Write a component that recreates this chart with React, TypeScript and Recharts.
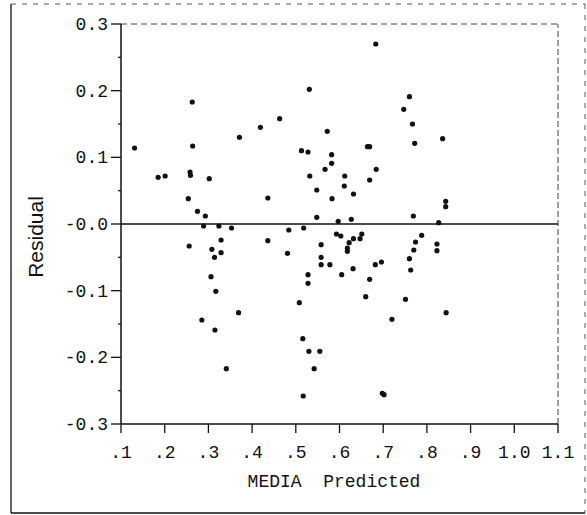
import { ScatterChart, Scatter, XAxis, YAxis, ReferenceLine } from "recharts"

// predicted value vs. residual, one pair per observation
const predicted = [
  0.131, 0.185, 0.201, 0.263, 0.264, 0.258, 0.259, 0.302, 0.254, 0.275,
  0.293, 0.371, 0.419, 0.289, 0.324, 0.353, 0.256, 0.329, 0.308, 0.329,
  0.314, 0.306, 0.317, 0.369, 0.285, 0.315, 0.341, 0.531, 0.463, 0.572,
  0.513, 0.528, 0.582, 0.582, 0.567, 0.532, 0.612, 0.664, 0.669, 0.684,
  0.669, 0.548, 0.611, 0.583, 0.632, 0.436, 0.548, 0.597, 0.627, 0.747,
  0.760, 0.767, 0.772, 0.836, 0.843, 0.843, 0.769, 0.827, 0.683, 0.484,
  0.518, 0.436, 0.481, 0.558, 0.593, 0.603, 0.651, 0.647, 0.632, 0.622,
  0.618, 0.618, 0.558, 0.558, 0.578, 0.528, 0.528, 0.605, 0.631, 0.682,
  0.696, 0.669, 0.660, 0.508, 0.720, 0.516, 0.530, 0.555, 0.542, 0.517,
  0.698, 0.702, 0.788, 0.774, 0.770, 0.760, 0.763, 0.751, 0.823, 0.823,
  0.844,
]
const residual = [
  0.114, 0.070, 0.072, 0.183, 0.117, 0.078, 0.073, 0.068, 0.038, 0.019,
  0.012, 0.130, 0.145, -0.003, -0.003, -0.006, -0.033, -0.024, -0.038, -0.043,
  -0.050, -0.079, -0.101, -0.133, -0.144, -0.159, -0.217, 0.202, 0.158, 0.139,
  0.110, 0.108, 0.104, 0.091, 0.082, 0.072, 0.072, 0.116, 0.116, 0.082,
  0.066, 0.051, 0.057, 0.038, 0.045, 0.039, 0.010, 0.004, 0.007, 0.172,
  0.191, 0.150, 0.121, 0.128, 0.034, 0.026, 0.012, 0.002, 0.270, -0.009,
  -0.006, -0.025, -0.044, -0.031, -0.015, -0.018, -0.015, -0.022, -0.022, -0.028,
  -0.036, -0.041, -0.050, -0.061, -0.061, -0.076, -0.089, -0.076, -0.067, -0.061,
  -0.057, -0.083, -0.109, -0.118, -0.143, -0.172, -0.191, -0.191, -0.217, -0.258,
  -0.254, -0.256, -0.017, -0.027, -0.039, -0.052, -0.069, -0.113, -0.030, -0.040,
  -0.133,
]

const xTicks = [0.1, 0.2, 0.3, 0.4, 0.5, 0.6, 0.7, 0.8, 0.9, 1.0, 1.1]
const xTickLabels = [".1", ".2", ".3", ".4", ".5", ".6", ".7", ".8", ".9", "1.0", "1.1"]
const yTicks = [-0.3, -0.25, -0.2, -0.15, -0.1, -0.05, 0, 0.05, 0.1, 0.15, 0.2, 0.25, 0.3]
const yTickLabels = ["-0.3", "", "-0.2", "", "-0.1", "", "-0.0", "", "0.1", "", "0.2", "", "0.3"]

const data = predicted.map((x, i) => ({ x, y: residual[i] }))

const MONO = "'Liberation Mono', 'DejaVu Sans Mono', monospace"
const INK = "#111"

const XTick = ({ x, y, index }: any) => (
  <g>
    <line x1={x} x2={x} y1={y} y2={y + 9} stroke={INK} strokeWidth={1.3} />
    <text x={x} y={y + 34} textAnchor="middle" fontFamily={MONO} fontSize={18} fill={INK}>
      {xTickLabels[index]}
    </text>
  </g>
)

const YTick = ({ x, y, index }: any) => {
  const label = yTickLabels[index]
  return (
    <g>
      <line x1={x - (label ? 10 : 3)} x2={x} y1={y} y2={y} stroke={INK} strokeWidth={1.3} />
      {label && (
        <text x={x - 13} y={y + 6} textAnchor="end" fontFamily={MONO} fontSize={18} fill={INK}>
          {label}
        </text>
      )}
    </g>
  )
}

const Dot = ({ cx, cy }: any) => <circle cx={cx} cy={cy} r={2.6} fill={INK} />

export default function App() {
  return (
    <div style={{ position: "relative", width: 587, height: 515, background: "#fff" }}>
      <style>{"body{margin:0}"}</style>
      <ScatterChart width={587} height={515} margin={{ top: 24, right: 29, left: 0, bottom: 0 }}>
        <XAxis
          type="number"
          dataKey="x"
          domain={[0.1, 1.1]}
          ticks={xTicks}
          height={91}
          tickSize={0}
          tickMargin={0}
          tickLine={false}
          tick={<XTick />}
          interval={0}
          axisLine={{ stroke: INK, strokeWidth: 1.5 }}
        />
        <YAxis
          type="number"
          dataKey="y"
          domain={[-0.3, 0.3]}
          ticks={yTicks}
          width={121}
          tickSize={0}
          tickMargin={0}
          tickLine={false}
          tick={<YTick />}
          interval={0}
          axisLine={{ stroke: INK, strokeWidth: 1.5 }}
        />
        <ReferenceLine y={0.3} stroke="#444" strokeDasharray="6 4" strokeWidth={1} />
        <ReferenceLine x={1.1} stroke="#444" strokeDasharray="6 3" strokeWidth={1} />
        <ReferenceLine y={0} stroke={INK} strokeWidth={1.5} />
        <Scatter data={data} shape={<Dot />} isAnimationActive={false} />
      </ScatterChart>
      <svg
        width={587}
        height={515}
        style={{ position: "absolute", left: 0, top: 0, pointerEvents: "none" }}
      >
        {/* outer frame */}
        <line x1={11} x2={11} y1={4} y2={513} stroke={INK} strokeWidth={1.3} />
        <line x1={11} x2={585} y1={513} y2={513} stroke={INK} strokeWidth={1.3} />
        <line x1={11} x2={585} y1={4} y2={4} stroke="#555" strokeWidth={1} strokeDasharray="5 6" />
        <line x1={585} x2={585} y1={4} y2={513} stroke="#555" strokeWidth={1} strokeDasharray="5 6" />
        <text
          transform="translate(43 237) rotate(-90)"
          textAnchor="middle"
          fontFamily="'Liberation Sans', Arial, sans-serif"
          fontSize={21}
          fill={INK}
        >
          Residual
        </text>
        <text x={334} y={487} textAnchor="middle" fontFamily={MONO} fontSize={18} fill={INK} xmlSpace="preserve">
          MEDIA  Predicted
        </text>
      </svg>
    </div>
  )
}
